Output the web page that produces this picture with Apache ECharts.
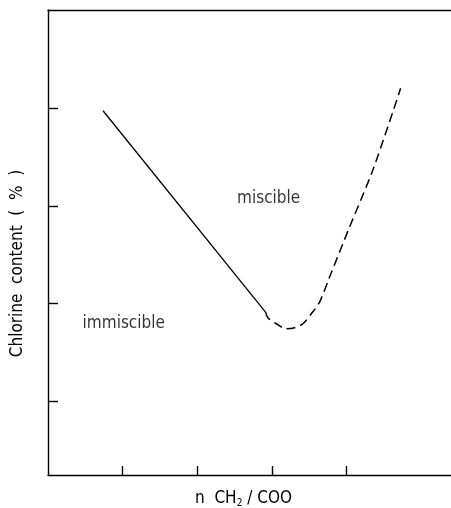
<!DOCTYPE html>
<html>
<head>
<meta charset="utf-8">
<script src="https://cdn.jsdelivr.net/npm/echarts@6/dist/echarts.min.js"></script>
<style>
html,body{margin:0;padding:0;background:#fff;}
#chart{width:451px;height:508px;}
</style>
</head>
<body>
<div id="chart"></div>
<script>
// Solid boundary (measured part)
var solidX = [0.737, 2.915];
var solidY = [3.971, 1.914];
// Dashed boundary (extrapolated part)
var dashedX = [2.915, 2.946, 3.059, 3.193, 3.304, 3.415, 3.528, 3.639, 3.773, 4.041, 4.352, 4.725];
var dashedY = [1.914, 1.857, 1.795, 1.744, 1.754, 1.795, 1.898, 2.016, 2.272, 2.784, 3.364, 4.200];
// Region labels
var labelX = [2.956, 1.015];
var labelY = [3.078, 1.798];
var labelText = ['miscible', 'immiscible'];
// Tick positions (no tick labels shown)
var xTicks = [1, 2, 3, 4];
var yTicks = [1, 2, 3, 4];

var FONT = '"DejaVu Sans Condensed", "Liberation Sans Narrow", "Liberation Sans", sans-serif';

function pairs(xs, ys) { return xs.map(function (x, i) { return [x, ys[i]]; }); }

var chart = echarts.init(document.getElementById('chart'), null, { renderer: 'canvas' });
chart.setOption({
  backgroundColor: '#fff',
  animation: false,
  grid: { left: 48, right: 0, top: 10, bottom: 33, containLabel: false, outerBoundsMode: 'none' },
  xAxis: [{
    type: 'value', min: 0, max: 5.4, position: 'bottom',
    name: 'n  CH{sub|2} / COO',
    nameLocation: 'middle', nameGap: 15,
    nameTextStyle: {
      fontFamily: FONT, fontSize: 17, color: '#000', padding: [0, 12, 0, 0],
      rich: { sub: { fontFamily: FONT, fontSize: 10, color: '#000', padding: [8, 0, 0, 0] } }
    },
    axisLine: { show: true, onZero: false, lineStyle: { color: '#000', width: 1.4 } },
    axisTick: { show: true, inside: true, length: 9, customValues: xTicks, lineStyle: { color: '#000', width: 1.4 } },
    axisLabel: { show: false },
    splitLine: { show: false }
  }, {
    type: 'value', min: 0, max: 5.4, position: 'top',
    axisLine: { show: true, onZero: false, lineStyle: { color: '#000', width: 1.4 } },
    axisTick: { show: false }, axisLabel: { show: false }, splitLine: { show: false }
  }],
  yAxis: {
    type: 'value', min: 0.25, max: 5,
    name: 'Chlorine  content  (  %  )',
    nameLocation: 'middle', nameGap: 22, nameRotate: 90,
    nameTextStyle: { fontFamily: FONT, fontSize: 17, color: '#000', padding: [0, 42, 0, 0] },
    axisLine: { show: true, onZero: false, lineStyle: { color: '#000', width: 1.4 } },
    axisTick: { show: true, inside: true, length: 10, customValues: yTicks, lineStyle: { color: '#000', width: 1.4 } },
    axisLabel: { show: false },
    splitLine: { show: false }
  },
  series: [{
    type: 'line', data: pairs(solidX, solidY), showSymbol: false, symbol: 'none',
    lineStyle: { color: '#000', width: 1.3, type: 'solid' }
  }, {
    type: 'line', data: pairs(dashedX, dashedY), showSymbol: false, symbol: 'none', smooth: 0.3,
    lineStyle: { color: '#000', width: 1.5, type: [9, 5] }
  }, {
    type: 'scatter', symbolSize: 0,
    data: labelX.map(function (x, i) { return { value: [x, labelY[i]], name: labelText[i] }; }),
    label: {
      show: true, position: 'inside', formatter: '{b}',
      fontFamily: FONT, fontSize: 17, color: '#000'
    }
  }]
});
</script>
</body>
</html>
